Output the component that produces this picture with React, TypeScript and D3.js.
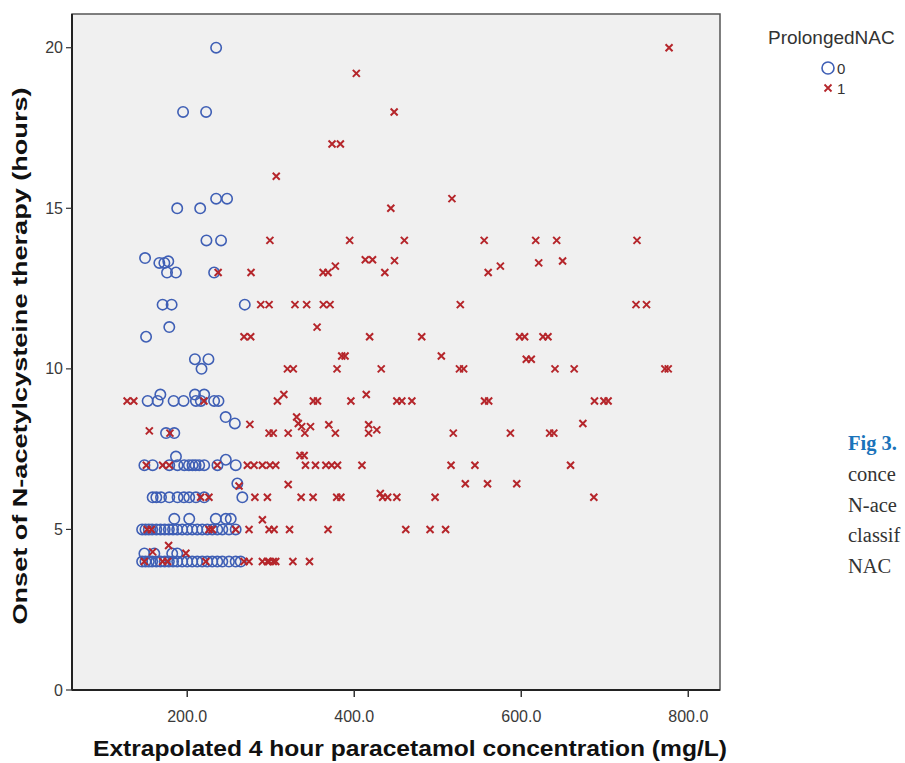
import React from 'react';
import * as d3 from 'd3';

// ProlongedNAC = 0 : [concentration mg/L, onset hours]
const prolonged0: [number, number][] = [
  [234.6, 20], [195, 18], [222.6, 18],
  [234.6, 15.3], [247.7, 15.3], [188, 15], [215.5, 15],
  [223, 14], [240.5, 14],
  [149.5, 13.45], [166.6, 13.3], [172.6, 13.3], [177.3, 13.35],
  [175.8, 13], [186.5, 13], [232.2, 13],
  [170.5, 12], [181.3, 12], [268.9, 12],
  [178.5, 11.3], [150.7, 11],
  [209.2, 10.3], [225.4, 10.3], [217.1, 10],
  [167.8, 9.2], [209.2, 9.2], [220.3, 9.2],
  [152.6, 9], [164.6, 9], [183.7, 9], [195.6, 9], [210.4, 9], [216.3, 9], [232.2, 9], [237.4, 9],
  [246, 8.5], [257, 8.3],
  [174.6, 8], [184.5, 8],
  [186.5, 7.27], [246.2, 7.17],
  [148.7, 7], [158.6, 7], [178.5, 7], [188.4, 7], [196.4, 7], [202, 7], [206.3, 7], [210, 7],
  [214.3, 7], [220.3, 7], [236.2, 7], [258.1, 7],
  [260, 6.43],
  [158.6, 6], [163, 6], [168.6, 6], [178.5, 6], [188.4, 6], [196, 6], [202.4, 6], [210.4, 6], [220.3, 6], [266, 6],
  [184.5, 5.33], [202.4, 5.33], [234.2, 5.33], [246.2, 5.33], [252.1, 5.33],
  [146, 5], [150, 5], [154, 5], [158, 5], [163, 5], [168, 5], [173, 5], [178, 5], [183, 5], [188, 5],
  [194, 5], [200, 5], [206, 5], [212, 5], [218, 5], [224, 5], [230, 5], [236, 5], [242, 5], [250, 5], [258, 5],
  [148.7, 4.25], [160.6, 4.25], [182, 4.25], [188, 4.25],
  [146, 4], [150, 4], [154, 4], [158, 4], [163, 4], [168, 4], [173, 4], [178, 4], [183, 4], [188, 4],
  [194, 4], [200, 4], [206, 4], [212, 4], [218, 4], [224, 4], [230, 4], [236, 4], [242, 4], [250, 4], [258, 4], [264, 4],
];

// ProlongedNAC = 1
const prolonged1: [number, number][] = [
  [777, 20], [402.5, 19.2], [447.8, 18], [373.4, 17], [383.4, 17], [306.6, 16], [517, 15.3], [443.8, 15],
  [299, 14], [394.5, 14], [460, 14], [555.6, 14], [617.3, 14], [642.4, 14], [738.6, 14],
  [413.2, 13.4], [421.9, 13.4], [448.2, 13.37], [620.9, 13.3], [649.5, 13.36], [377.4, 13.2], [575, 13.2],
  [237, 13], [276.4, 13], [362.7, 13], [368.6, 13], [436.6, 13], [560.4, 13],
  [288, 12], [298, 12], [329, 12], [343, 12], [363, 12], [371, 12], [527, 12], [737.4, 12], [750, 12],
  [355.5, 11.3],
  [268, 11], [276, 11], [418.4, 11], [480.8, 11], [598, 11], [604, 11], [626, 11], [632, 11],
  [385, 10.4], [389, 10.4], [504.3, 10.4], [606, 10.3], [612, 10.3],
  [320, 10], [327, 10], [379.4, 10], [432.3, 10], [526, 10], [531, 10], [640.4, 10], [663.4, 10], [772, 10], [776, 10],
  [315.7, 9.2], [414.4, 9.2],
  [128, 9], [136, 9], [220, 9], [308, 9], [351, 9], [356, 9], [396, 9], [451, 9], [457, 9], [469, 9],
  [556, 9], [561, 9], [687.7, 9], [699, 9], [704, 9],
  [331, 8.5],
  [275, 8.27], [333, 8.3], [337, 8.2], [369.5, 8.26], [417.2, 8.26], [427, 8.1], [673.8, 8.3],
  [154.6, 8.07], [179.3, 8], [298, 8], [303, 8], [320.9, 8], [340.8, 8], [347.6, 8.2], [377.4, 8], [417.2, 8],
  [518.6, 8], [587, 8], [634, 8], [639, 8],
  [335, 7.3], [340, 7.3],
  [151, 7], [170.5, 7], [178.5, 7], [236, 7], [272, 7], [280, 7], [290, 7], [299, 7], [306, 7], [341.6, 7],
  [353.6, 7], [366, 7], [373, 7], [380, 7], [409.2, 7], [515.9, 7], [544.5, 7], [659, 7],
  [262, 6.35], [320.9, 6.4], [533, 6.42], [559.6, 6.42], [594.6, 6.42],
  [216, 6], [226, 6], [281, 6], [296, 6], [336.4, 6], [350.7, 6], [379, 6], [384, 6], [431.2, 6.12], [434, 6],
  [440, 6], [451, 6], [496.8, 6], [686.9, 6],
  [290, 5.3],
  [152, 5], [157, 5], [226, 5], [230, 5], [258, 5], [274, 5], [298, 5], [304, 5], [322.5, 5], [368.6, 5],
  [461.7, 5], [490.8, 5], [509.4, 5],
  [177.7, 4.5], [158.6, 4.3], [198.4, 4.26],
  [148.6, 4], [170.5, 4], [176.5, 4], [222.3, 4], [268, 4], [274, 4], [290, 4], [296, 4], [298, 4], [303, 4],
  [306, 4], [326.5, 4], [346.4, 4],
];

const xTicks = [200, 400, 600, 800];
const yTicks = [0, 5, 10, 15, 20];
const legendTitle = 'ProlongedNAC';
const legendLabels = ['0', '1'];
// caption to the right, only its first letters fit in the page
const captionHead = 'Fig 3.';
const captionLines = ['conce', 'N-ace', 'classif', 'NAC'];

const W = 905;
const H = 763;
const plot = { left: 72, top: 14, right: 720, bottom: 690 };

const BLUE = '#3f5fb5';
const RED = '#b5262b';
const crossPath = 'M-3.5,-3.5L3.5,3.5M-3.5,3.5L3.5,-3.5';

export default function App() {
  const x = d3.scaleLinear().domain([62, 838]).range([plot.left, plot.right]);
  const y = d3.scaleLinear().domain([0, 21.05]).range([plot.bottom, plot.top]);
  const fmt = d3.format('.1f');

  return (
    <div style={{ position: 'absolute', left: 0, top: 0 }}>
      <svg width={W} height={H} style={{ display: 'block', background: '#fff' }}
        fontFamily="'Liberation Sans', Arial, sans-serif">
        {/* plot background + frame */}
        <rect x={plot.left} y={plot.top} width={plot.right - plot.left} height={plot.bottom - plot.top}
          fill="#f0f0f0" stroke="#555" strokeWidth={1.5} />
        <line x1={plot.left} x2={plot.left} y1={plot.top} y2={plot.bottom} stroke="#222" strokeWidth={2} />
        <line x1={plot.left} x2={plot.right} y1={plot.bottom} y2={plot.bottom} stroke="#222" strokeWidth={2} />

        {/* y axis */}
        {yTicks.map(t => (
          <g key={t} transform={`translate(${plot.left},${y(t)})`}>
            <line x1={-6} x2={0} stroke="#333" strokeWidth={1.2} />
            <text x={-9} dy="0.35em" textAnchor="end" fontSize={16} fill="#3a3a3a">{t}</text>
          </g>
        ))}
        {/* x axis */}
        {xTicks.map(t => (
          <g key={t} transform={`translate(${x(t)},${plot.bottom})`}>
            <line y1={0} y2={7} stroke="#333" strokeWidth={1.5} />
            <text y={32} textAnchor="middle" fontSize={16} fill="#3a3a3a">{fmt(t)}</text>
          </g>
        ))}

        {/* points */}
        <g>
          {prolonged0.map((d, i) => (
            <circle key={i} cx={x(d[0])} cy={y(d[1])} r={5.2} fill="none" stroke={BLUE} strokeWidth={1.6} />
          ))}
        </g>
        <g>
          {prolonged1.map((d, i) => (
            <path key={i} d={crossPath} transform={`translate(${x(d[0])},${y(d[1])})`}
              fill="none" stroke={RED} strokeWidth={2} />
          ))}
        </g>

        {/* axis titles */}
        <text x={410} y={756} textAnchor="middle" fontSize={22} fontWeight="bold" fill="#111"
          textLength={634} lengthAdjust="spacingAndGlyphs">
          Extrapolated 4 hour paracetamol concentration (mg/L)
        </text>
        <text transform="translate(27,356) rotate(-90)" textAnchor="middle" fontSize={21} fontWeight="bold"
          fill="#111" textLength={537} lengthAdjust="spacingAndGlyphs">
          Onset of N-acetylcysteine therapy (hours)
        </text>

        {/* legend */}
        <text x={768} y={44} fontSize={19} fill="#333">{legendTitle}</text>
        <circle cx={828} cy={68} r={6} fill="none" stroke={BLUE} strokeWidth={1.6} />
        <text x={837} y={74} fontSize={15} fill="#333">{legendLabels[0]}</text>
        <path d={crossPath} transform="translate(828,88)" fill="none" stroke={RED} strokeWidth={1.8} />
        <text x={837} y={94} fontSize={15} fill="#333">{legendLabels[1]}</text>

        {/* caption */}
        <g fontFamily="'Liberation Serif', 'DejaVu Serif', serif" fontSize={20.5}>
          <text x={848} y={450} fill="#1a73ba" fontWeight="bold">{captionHead}</text>
          {captionLines.map((l, i) => (
            <text key={i} x={848} y={481 + i * 30.5} fill="#333">{l}</text>
          ))}
        </g>
      </svg>
    </div>
  );
}
